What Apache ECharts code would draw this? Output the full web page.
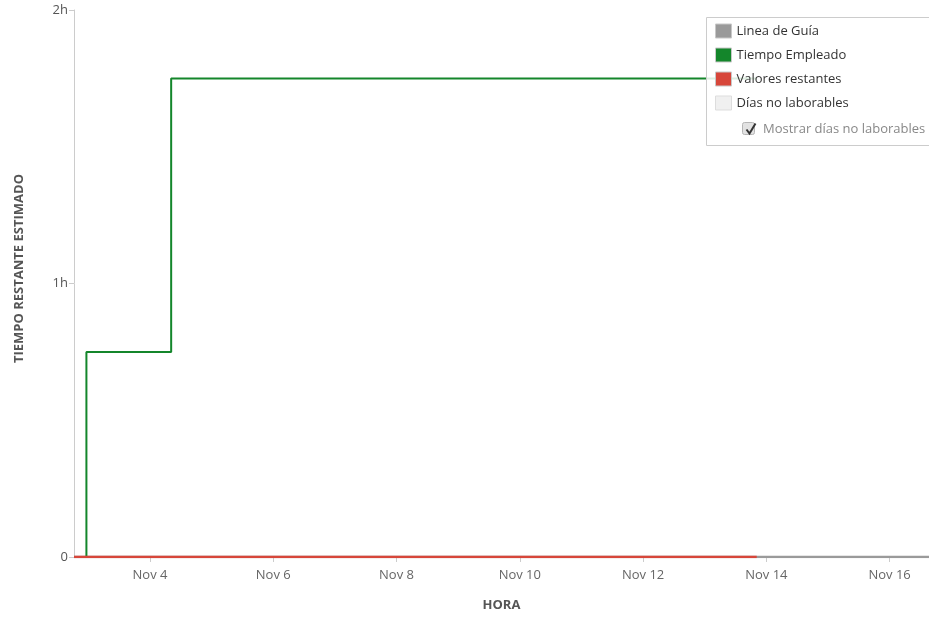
<!DOCTYPE html>
<html>
<head>
<meta charset="utf-8">
<script src="https://cdn.jsdelivr.net/npm/echarts@6/dist/echarts.min.js"></script>
<style>
  html, body { margin: 0; padding: 0; background: #fff; }
  #chart { width: 929px; height: 618px; }
</style>
</head>
<body>
<div id="chart"></div>
<script>
  // rango visible del eje x
  const xMin = '2023-11-02T18:25:00'
  const xMax = '2023-11-16T15:20:00'
  // marcas del eje x
  const tickDates = ['2023-11-04', '2023-11-06', '2023-11-08', '2023-11-10', '2023-11-12', '2023-11-14', '2023-11-16']
  const tickLabels = ['Nov 4', 'Nov 6', 'Nov 8', 'Nov 10', 'Nov 12', 'Nov 14', 'Nov 16']
  // series (horas)
  const guiaTimes = [xMin, xMax]
  const guiaHours = [0, 0]
  const empleadoTimes = ['2023-11-02T23:15:00', '2023-11-04T08:15:00', '2023-11-13T20:15:00']
  const empleadoHours = [0, 0.75, 1.75]
  const restantesTimes = [xMin, '2023-11-13T20:15:00']
  const restantesHours = [0, 0]

  const ms = t => new Date(t).getTime()
  const tickValues = tickDates.map(d => ms(d + 'T00:00:00'))
  const pairs = (ts, vs) => ts.map((t, i) => [ms(t), vs[i]])

  const font = '"Open Sans", "Noto Sans", sans-serif'
  let myChart = echarts.init(document.getElementById('chart'))

  let option = {
    animation: false,
    textStyle: { fontFamily: font },
    grid: { left: 74, right: 0, top: 10, bottom: 61, outerBoundsMode: 'none', containLabel: false },
    legend: {
      orient: 'vertical',
      left: 710,
      top: 18,
      itemWidth: 16,
      itemHeight: 14,
      itemGap: 8,
      icon: 'rect',
      z: 6,
      textStyle: { color: '#333', fontSize: 13, fontFamily: font, lineHeight: 16 },
      data: [
        { name: 'Linea de Guía', itemStyle: { color: '#9a9a9a', borderColor: '#c8c8c8', borderWidth: 1 } },
        { name: 'Tiempo Empleado', itemStyle: { color: '#14862b', borderColor: '#c8c8c8', borderWidth: 1 } },
        { name: 'Valores restantes', itemStyle: { color: '#d7463a', borderColor: '#c8c8c8', borderWidth: 1 } },
        { name: 'Días no laborables', itemStyle: { color: '#f0f0f0', borderColor: '#dddddd', borderWidth: 1 } }
      ]
    },
    graphic: [
      {
        type: 'rect', z: 5, left: 706, top: 17,
        shape: { width: 240, height: 128 },
        style: { fill: 'rgba(255,255,255,0.85)', stroke: '#cccccc', lineWidth: 1 }
      },
      {
        type: 'rect', z: 6, left: 742, top: 122,
        shape: { width: 12, height: 12, r: 2 },
        style: { fill: '#e2e2e2', stroke: '#b5b5b5', lineWidth: 1 }
      },
      {
        type: 'polyline', z: 7, left: 744, top: 121,
        shape: { points: [[0, 6], [3, 10], [9, 0]] },
        style: { stroke: '#333', lineWidth: 2, fill: null }
      },
      {
        type: 'text', z: 7, left: 763, top: 123,
        style: { text: 'Mostrar días no laborables', fill: '#888', fontSize: 13, fontFamily: font }
      }
    ],
    xAxis: {
      type: 'value',
      min: ms(xMin),
      max: ms(xMax),
      name: 'HORA',
      nameLocation: 'middle',
      nameGap: 42,
      nameTextStyle: { color: '#555', fontSize: 13, fontWeight: 'bold', fontFamily: font },
      axisLine: { lineStyle: { color: '#cccccc' } },
      axisTick: { show: true, customValues: tickValues, length: 5, lineStyle: { color: '#cccccc' } },
      axisLabel: {
        customValues: tickValues,
        color: '#666',
        fontSize: 13,
        margin: 12,
        formatter: v => tickLabels[tickValues.indexOf(v)] || ''
      },
      splitLine: { show: false }
    },
    yAxis: {
      type: 'value',
      min: 0,
      max: 2,
      interval: 1,
      name: 'TIEMPO RESTANTE ESTIMADO',
      nameLocation: 'middle',
      nameGap: 48,
      nameTextStyle: { color: '#555', fontSize: 13, fontWeight: 'bold', fontFamily: font, padding: [0, 0, 0, 30] },
      axisLine: { show: true, lineStyle: { color: '#cccccc' } },
      axisTick: { show: true, length: 5, lineStyle: { color: '#cccccc' } },
      axisLabel: {
        color: '#555',
        fontSize: 13,
        margin: 6,
        formatter: v => (v === 0 ? '0' : v + 'h')
      },
      splitLine: { show: false }
    },
    series: [
      {
        name: 'Linea de Guía', type: 'line', symbol: 'none', z: 1,
        color: '#9a9a9a',
        lineStyle: { color: '#9a9a9a', width: 2.5 },
        data: pairs(guiaTimes, guiaHours)
      },
      {
        name: 'Tiempo Empleado', type: 'line', symbol: 'none', step: 'start', z: 2,
        color: '#14862b',
        lineStyle: { color: '#14862b', width: 2 },
        data: pairs(empleadoTimes, empleadoHours)
      },
      {
        name: 'Valores restantes', type: 'line', symbol: 'none', z: 3,
        color: '#d7463a',
        lineStyle: { color: '#d7463a', width: 2.5 },
        data: pairs(restantesTimes, restantesHours)
      },
      {
        name: 'Días no laborables', type: 'line', symbol: 'none',
        color: '#f0f0f0',
        data: []
      }
    ]
  }
  myChart.setOption(option)
</script>
</body>
</html>
